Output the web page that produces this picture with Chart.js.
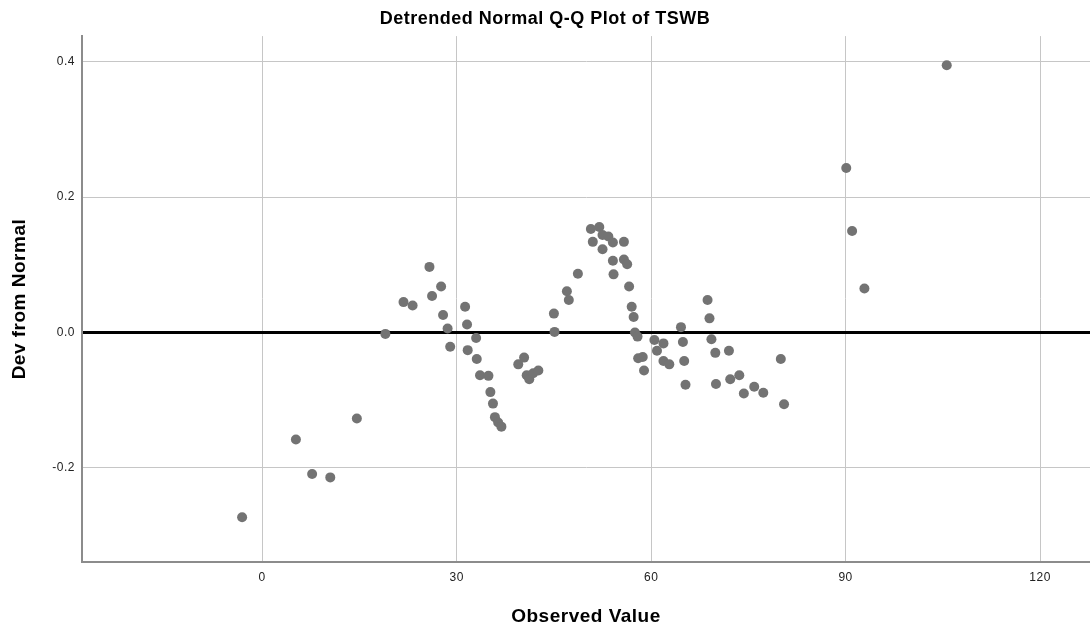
<!DOCTYPE html>
<html>
<head>
<meta charset="utf-8">
<script src="https://cdn.jsdelivr.net/npm/chart.js@4/dist/chart.umd.min.js"></script>
<style>
  html, body { margin: 0; padding: 0; background: #fff; overflow: hidden; }
  #wrap { width: 1090px; height: 633px; }
</style>
</head>
<body>
<div id="wrap"><canvas id="qq"></canvas></div>
<script>
// valeurs
const observed = [
  -3.1, 5.2, 7.7, 10.5, 14.6, 19.0, 21.8, 23.2, 25.8, 26.2,
  27.6, 27.9, 28.6, 29.0, 31.3, 31.6, 31.7, 33.0, 33.1, 33.6,
  34.9, 35.2, 35.6, 35.9, 36.4, 36.9, 39.5, 40.4, 40.8, 41.2,
  41.8, 42.6, 45.0, 45.1, 47.0, 47.3, 48.7, 50.7, 51.0, 52.0,
  52.5, 52.5, 53.4, 54.1, 54.1, 54.2, 55.8, 55.8, 56.3, 56.6,
  57.0, 57.3, 57.5, 57.9, 58.0, 58.7, 58.9, 60.5, 60.9, 61.9,
  61.9, 62.8, 64.6, 64.9, 65.1, 65.3, 68.7, 69.0, 69.3, 69.9,
  70.0, 72.0, 72.2, 73.6, 74.3, 75.9, 77.3, 80.0, 80.5, 90.1,
  91.0, 92.9, 105.6
];
const devFromNormal = [
  -0.273, -0.158, -0.209, -0.214, -0.127, -0.002, 0.045, 0.040, 0.097, 0.054,
  0.068, 0.026, 0.006, -0.021, 0.038, 0.012, -0.026, -0.008, -0.039, -0.063,
  -0.064, -0.088, -0.105, -0.125, -0.133, -0.139, -0.047, -0.037, -0.063, -0.069,
  -0.060, -0.056, 0.028, 0.001, 0.061, 0.048, 0.087, 0.153, 0.134, 0.156,
  0.144, 0.123, 0.142, 0.133, 0.106, 0.086, 0.134, 0.108, 0.101, 0.068,
  0.038, 0.023, 0.000, -0.006, -0.038, -0.036, -0.056, -0.011, -0.027, -0.016,
  -0.042, -0.047, 0.008, -0.014, -0.042, -0.077, 0.048, 0.021, -0.010, -0.030,
  -0.076, -0.027, -0.069, -0.063, -0.090, -0.080, -0.089, -0.039, -0.106, 0.243,
  0.150, 0.065, 0.395
];
const xTicks = [0, 30, 60, 90, 120];
const yTicks = [-0.2, 0.0, 0.2, 0.4];

const points = observed.map((x, i) => ({ x: x, y: devFromNormal[i] }));

const font = "'Liberation Sans', Arial, sans-serif";
const gridGray = "#c6c6c6";

// texte un peu plus espacé, comme dans l'original
const spacing = {
  id: "spacing",
  beforeLayout: (chart) => { chart.ctx.letterSpacing = "0.5px"; },
  beforeDraw: (chart) => { chart.ctx.letterSpacing = "0.5px"; },
};

const chartParams = {
  type: "scatter",
  data: {
    datasets: [
      {
        label: "TSWB",
        data: points,
        backgroundColor: "#737373",
        borderWidth: 0,
        pointRadius: 5,
        pointHoverRadius: 5,
      },
    ],
  },
  plugins: [spacing],
  options: {
    responsive: true,
    maintainAspectRatio: false,
    animation: false,
    // pas de marge automatique : le graphe va jusqu'au bord droit
    layout: { padding: 0, autoPadding: false },
    plugins: {
      legend: { display: false },
      tooltip: { enabled: false },
      title: {
        display: true,
        text: "Detrended Normal Q-Q Plot of TSWB",
        color: "#000",
        font: { family: font, size: 18, weight: "bold", lineHeight: 1.2 },
        padding: { top: 8, bottom: 6.5 },
      },
    },
    scales: {
      x: {
        type: "linear",
        min: -27.8,
        max: 127.7,
        afterBuildTicks: (scale) => {
          scale.ticks = xTicks.map((v) => ({ value: v }));
        },
        afterFit: (scale) => {
          scale.height = 71;
          scale.paddingLeft = 0;
          scale.paddingRight = 0;
        },
        ticks: {
          color: "#222",
          font: { family: font, size: 12 },
          padding: 8,
          maxRotation: 0,
        },
        grid: { color: gridGray, lineWidth: 1, drawTicks: false },
        border: { color: "#8c8c8c", width: 2 },
        title: {
          display: true,
          text: "Observed Value",
          color: "#000",
          font: { family: font, size: 19, weight: "bold", lineHeight: 1.2 },
          padding: 5,
        },
      },
      y: {
        type: "linear",
        min: -0.339,
        max: 0.438,
        afterBuildTicks: (scale) => {
          scale.ticks = yTicks.map((v) => ({ value: v }));
        },
        afterFit: (scale) => {
          scale.width = 82;
          scale.paddingTop = 0;
          scale.paddingBottom = 0;
        },
        ticks: {
          color: "#222",
          font: { family: font, size: 12 },
          padding: 7,
          callback: (v) => Number(v).toFixed(1),
        },
        grid: {
          drawTicks: false,
          // la ligne du zéro est noire et épaisse
          color: (ctx) => (ctx.tick && ctx.tick.value === 0 ? "#000" : gridGray),
          lineWidth: (ctx) => (ctx.tick && ctx.tick.value === 0 ? 3 : 1),
        },
        border: { color: "#8c8c8c", width: 2 },
        title: {
          display: true,
          text: "Dev from Normal",
          color: "#000",
          font: { family: font, size: 19, weight: "bold", lineHeight: 1.2 },
          padding: 8,
        },
      },
    },
  },
};

const ctx = document.getElementById("qq").getContext("2d");
const qqChart = new Chart(ctx, chartParams);
</script>
</body>
</html>
